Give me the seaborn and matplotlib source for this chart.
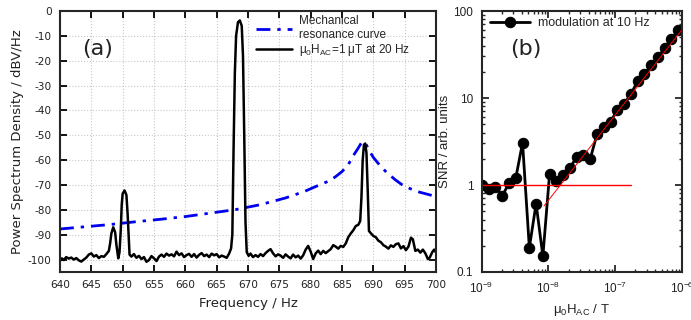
import matplotlib
matplotlib.use("Agg")
import matplotlib.pyplot as plt
import matplotlib.ticker as mticker
import seaborn as sns
import numpy as np

# ---------------- data: panel (a) ----------------
spec_freq = [640.0, 640.3, 640.6, 641.0, 641.4, 641.8, 642.2, 642.6, 643.0, 643.4,
             643.8, 644.2, 644.6, 645.0, 645.4, 645.8, 646.2, 646.6, 647.0, 647.4,
             647.8, 648.0, 648.2, 648.5, 648.8, 649.0, 649.3, 649.5, 649.7, 649.85,
             650.0, 650.3, 650.6, 650.8, 651.1, 651.4, 651.8, 652.2, 652.6, 653.0,
             653.4, 653.8, 654.2, 654.6, 655.0, 655.4, 655.8, 656.2, 656.6, 657.0,
             657.4, 657.8, 658.2, 658.6, 659.0, 659.4, 659.8, 660.2, 660.6, 661.0,
             661.4, 661.8, 662.2, 662.6, 663.0, 663.4, 663.8, 664.2, 664.6, 665.0,
             665.4, 665.8, 666.2, 666.6, 667.0, 667.3, 667.5, 667.7, 667.9, 668.1,
             668.4, 668.7, 669.0, 669.2, 669.4, 669.6, 669.8, 670.1, 670.4, 670.8,
             671.2, 671.6, 672.0, 672.4, 672.8, 673.2, 673.6, 674.0, 674.4, 674.8,
             675.2, 675.6, 676.0, 676.4, 676.8, 677.2, 677.6, 678.0, 678.4, 678.8,
             679.2, 679.6, 680.0, 680.4, 680.8, 681.2, 681.6, 682.0, 682.4, 682.8,
             683.2, 683.6, 684.0, 684.4, 684.8, 685.2, 685.6, 686.0, 686.4, 686.8,
             687.2, 687.6, 687.9, 688.1, 688.3, 688.5, 688.7, 688.9, 689.1, 689.3,
             689.6, 690.0, 690.4, 690.8, 691.2, 691.6, 692.0, 692.4, 692.8, 693.2,
             693.6, 694.0, 694.4, 694.8, 695.2, 695.6, 696.0, 696.3, 696.7, 697.1,
             697.5, 697.9, 698.3, 698.7, 699.0, 699.4, 699.7, 700.0]
spec_psd = [-100.5, -99.5, -100.2, -99.0, -99.6, -99.2, -100.0, -99.4, -100.3, -100.8,
            -100.0, -99.2, -98.0, -97.5, -98.8, -98.2, -99.4, -98.6, -98.9, -97.8,
            -96.5, -93.5, -89.5, -87.0, -89.0, -94.0, -99.5, -97.0, -88.0, -78.0,
            -73.5, -72.2, -74.0, -82.0, -98.0, -98.8, -97.8, -99.3, -98.5, -99.8,
            -99.0, -100.9, -100.2, -98.6, -99.5, -100.6, -98.8, -98.0, -98.9, -97.6,
            -98.4, -97.9, -98.7, -96.8, -98.2, -97.5, -99.0, -98.2, -97.7, -98.9,
            -97.8, -99.2, -98.1, -97.4, -98.6, -98.0, -99.0, -97.6, -98.3, -97.8,
            -99.1, -98.4, -98.8, -99.3, -97.5, -95.5, -90.0, -55.0, -25.0, -10.0,
            -4.5, -3.8, -6.0, -18.0, -50.0, -85.0, -97.0, -98.5, -97.6, -99.0,
            -98.2, -98.9, -97.8, -98.6, -97.4, -96.5, -95.8, -97.5, -98.7, -97.9,
            -98.4, -99.3, -97.9, -98.8, -99.5, -98.0, -99.1, -98.4, -99.6, -98.3,
            -96.0, -94.5, -96.8, -99.8, -97.5, -96.4, -97.8, -96.5, -97.4, -96.6,
            -95.8, -94.2, -94.8, -95.6, -94.5, -94.9, -93.5, -91.0, -89.5, -88.2,
            -86.5, -86.0, -84.5, -75.0, -60.0, -53.8, -53.3, -57.0, -72.0, -88.5,
            -89.4, -90.5, -91.0, -92.4, -93.0, -94.2, -94.8, -95.6, -94.3, -94.9,
            -93.8, -93.5, -95.5, -94.6, -96.2, -94.8, -91.2, -91.8, -96.5, -96.0,
            -97.2, -96.0, -97.5, -99.8, -99.2, -97.0, -96.0, -97.2]

res_freq = [640, 644, 648, 652, 656, 660, 664, 668, 672, 676, 679, 681, 683,
            684, 685, 686, 686.8, 687.5, 688.1, 688.4, 688.8, 689.3, 690, 691,
            692.1, 693.5, 694.8, 696, 697.4, 699.5, 700]
res_psd = [-87.7, -86.8, -85.9, -84.8, -83.8, -82.7, -81.3, -79.9, -77.9, -75.2,
           -72.6, -70.4, -68.3, -66.6, -64.6, -61.8, -58.2, -55.5, -53.0, -52.5,
           -53.4, -56.0, -58.9, -62.0, -64.9, -67.9, -70.3, -71.6, -72.9, -74.3, -74.6]

label_res = "Mechanical\nresonance curve"
label_spec = "μ$_0$H$_{AC}$=1 μT at 20 Hz"
freq_ticks = [640, 645, 650, 655, 660, 665, 670, 675, 680, 685, 690, 695, 700]
psd_ticks = [0, -10, -20, -30, -40, -50, -60, -70, -80, -90, -100]

# ---------------- data: panel (b) ----------------
field_T = [1.01e-9, 1.28e-9, 1.61e-9, 2.04e-9, 2.57e-9, 3.25e-9, 4.10e-9, 5.18e-9,
           6.54e-9, 8.26e-9, 1.04e-8, 1.32e-8, 1.66e-8, 2.10e-8, 2.65e-8, 3.35e-8,
           4.23e-8, 5.34e-8, 6.74e-8, 8.51e-8, 1.07e-7, 1.36e-7, 1.71e-7, 2.16e-7,
           2.73e-7, 3.45e-7, 4.36e-7, 5.50e-7, 6.95e-7, 8.77e-7]
snr = [1.00, 0.91, 0.96, 0.75, 1.05, 1.21, 3.06, 0.19, 0.61, 0.152,
       1.33, 1.11, 1.30, 1.58, 2.09, 2.21, 2.00, 3.84, 4.66, 5.23,
       7.37, 8.56, 11.0, 15.6, 18.7, 23.9, 29.6, 37.2, 48.0, 59.8]
flat_x = [1e-9, 1.7e-7]
flat_y = [1.0, 1.0]
slope_x = [8.6e-9, 1.0e-6]
slope_y = [0.575, 61.0]
label_mod = "modulation at 10 Hz"

# ---------------- figure ----------------
sns.set_theme(style="ticks")
plt.rcParams['font.family'] = ['DejaVu Sans']
plt.rcParams['axes.linewidth'] = 1.5
plt.rcParams['axes.unicode_minus'] = False
plt.rcParams['mathtext.fontset'] = 'custom'
plt.rcParams['mathtext.rm'] = 'Liberation Sans'
plt.rcParams['mathtext.it'] = 'Liberation Sans'
plt.rcParams['mathtext.default'] = 'regular'

SANS = ["Liberation Sans", "DejaVu Sans"]

fig = plt.figure(figsize=(6.91, 3.2), dpi=100)
axA = fig.add_axes([0.0868, 0.15, 0.631 - 0.0868, 0.9656 - 0.15])
axB = fig.add_axes([0.697, 0.15, 0.987 - 0.697, 0.9656 - 0.15])

# panel (a)
sns.lineplot(x=res_freq, y=res_psd, ax=axA, color="#0000ee", linewidth=2.0,
             sort=False, estimator=None, label=label_res)
axA.lines[-1].set_linestyle((0, (5, 2.5, 1.2, 2.5)))
sns.lineplot(x=spec_freq, y=spec_psd, ax=axA, color="black", linewidth=1.8,
             sort=False, estimator=None, label=label_spec)
axA.set_xlim(640, 700)
axA.set_ylim(-105, 0)
axA.set_xticks(freq_ticks)
axA.set_yticks(psd_ticks)
axA.grid(True, color="#c8c8c8", linestyle=":", linewidth=0.8)
axA.tick_params(direction="in", top=True, right=True, length=5, width=1.3,
                labelsize=7.6, pad=6, colors="black", labelcolor="#222222")
axA.set_xlabel("Frequency / Hz", fontsize=9.5, color="#222222", labelpad=5)
axA.set_ylabel("Power Spectrum Density / dBV/Hz", fontsize=9.5, color="#222222", labelpad=3)
axA.text(0.058, 0.855, "(a)", transform=axA.transAxes, fontsize=16, color="#222222",
         va="center", ha="left")
axA.legend(loc="upper right", bbox_to_anchor=(0.95, 1.01), frameon=False,
           prop={"family": SANS, "size": 8.5},
           handlelength=3.0, handletextpad=0.6, labelspacing=0.1,
           borderaxespad=0.2)

# panel (b)
sns.lineplot(x=field_T, y=snr, ax=axB, color="black", linewidth=2.0, marker="o",
             markersize=7.5, markeredgecolor="black", sort=False, estimator=None,
             label=label_mod)
sns.lineplot(x=flat_x, y=flat_y, ax=axB, color="red", linewidth=1.0,
             sort=False, estimator=None)
sns.lineplot(x=slope_x, y=slope_y, ax=axB, color="red", linewidth=0.7,
             sort=False, estimator=None)
axB.set_xscale("log")
axB.set_yscale("log")
axB.set_xlim(1e-9, 1e-6)
axB.set_ylim(0.1, 100)
axB.yaxis.set_major_locator(mticker.FixedLocator([0.1, 1, 10, 100]))
axB.yaxis.set_major_formatter(mticker.FixedFormatter(["0.1", "1", "10", "100"]))
axB.yaxis.set_minor_locator(mticker.LogLocator(base=10, subs=np.arange(2, 10)))
axB.yaxis.set_minor_formatter(mticker.NullFormatter())
axB.xaxis.set_major_locator(mticker.LogLocator(base=10, numticks=10))
axB.xaxis.set_minor_locator(mticker.LogLocator(base=10, subs=np.arange(2, 10), numticks=10))
axB.xaxis.set_minor_formatter(mticker.NullFormatter())
axB.tick_params(which="major", direction="in", top=True, right=True, length=5,
                width=1.3, labelsize=8.5, pad=6, labelcolor="#222222")
axB.tick_params(which="minor", direction="in", top=True, right=True, length=2.5,
                width=1.0)
for lab in axB.get_xticklabels() + axB.get_yticklabels():
    lab.set_fontfamily(SANS)
axB.set_xlabel("μ$_0$H$_{AC}$ / T", fontsize=9.5, labelpad=5, family=SANS,
               color="#222222")
axB.set_ylabel("SNR / arb. units", fontsize=9.5, labelpad=2, family=SANS,
               color="#222222")
axB.text(0.14, 0.854, "(b)", transform=axB.transAxes, fontsize=16, color="#222222",
         va="center", ha="left")
axB.legend(loc="upper left", bbox_to_anchor=(0.0, 1.01), frameon=False,
           prop={"family": SANS, "size": 9},
           handlelength=3.2, handletextpad=0.6, borderaxespad=0.3)

fig.savefig("out.png", dpi=100)
